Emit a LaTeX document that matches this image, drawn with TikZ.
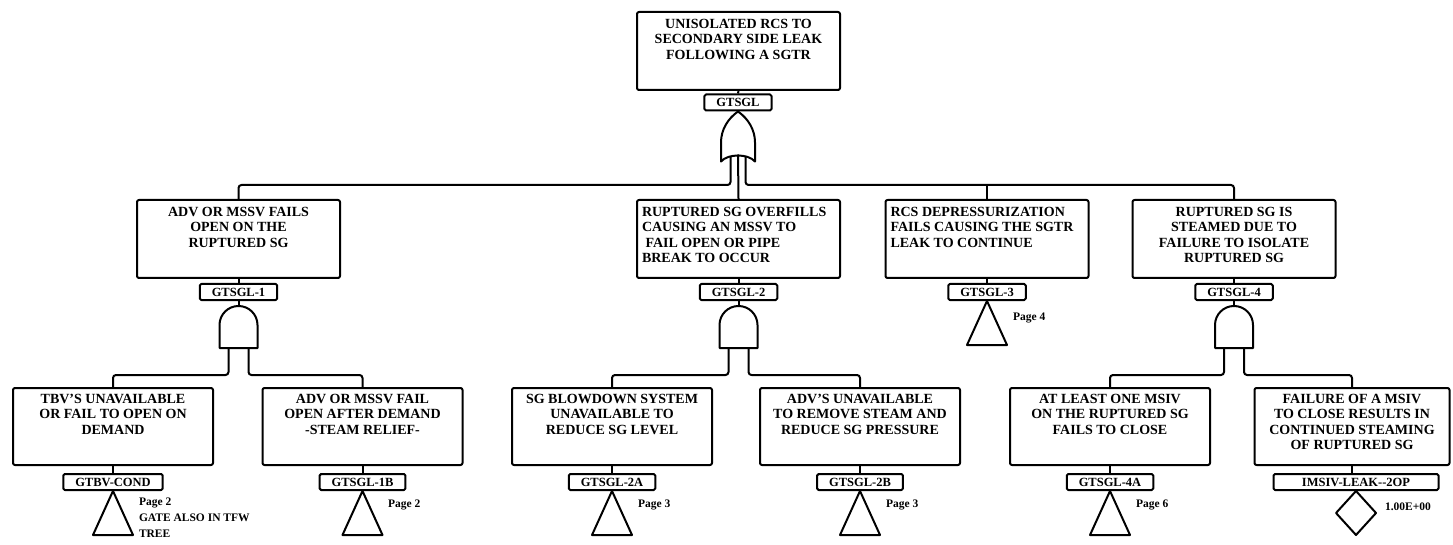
\documentclass[tikz,border=0pt]{standalone}
\usepackage{fontspec}
\setmainfont{Liberation Serif}
\begin{document}
\begin{tikzpicture}[x=1pt, y=-1pt, line width=2pt, line join=round,
  ev/.style={draw, rounded corners=2pt, minimum width=203pt, minimum height=78pt, inner sep=0pt},
  lv/.style={ev, minimum width=200pt, minimum height=77pt},
  evtxt/.style={anchor=north, align=center, inner sep=0pt, font=\fontsize{14}{15.5}\selectfont\bfseries},
  evtxtl/.style={evtxt, anchor=north west, align=left},
  tag/.style={draw, rounded corners=1.5pt, minimum height=16pt, inner ysep=0pt, inner xsep=12pt, font=\fontsize{12.5}{14}\selectfont\bfseries},
  note/.style={inner sep=0pt, align=left, font=\fontsize{11.5}{16}\selectfont\bfseries},
  cn/.style={rounded corners=3pt},
  orgate/.pic={
    \draw (0,0) .. controls (10,7) and (17,18) .. (17,31) -- (17,50)
      .. controls (10,42) and (-10,42) .. (-17,50) -- (-17,31)
      .. controls (-17,18) and (-10,7) .. (0,0) -- cycle;
    \coordinate (-l) at (-7.5,44.5);
    \coordinate (-m) at (0,43);
    \coordinate (-r) at (7.5,44.5);
  },
  andgate/.pic={
    \draw (-19,42) -- (-19,19) .. controls (-19,8.5) and (-10.5,0) .. (0,0)
      .. controls (10.5,0) and (19,8.5) .. (19,19) -- (19,42) -- cycle;
    \coordinate (-top) at (0,0);
    \coordinate (-l) at (-10,42);
    \coordinate (-r) at (10,42);
  },
  xfer/.pic={\draw (0,0) -- (20,44) -- (-20,44) -- cycle;},
  diam/.pic={\draw (0,0) -- (20,22) -- (0,44) -- (-20,22) -- cycle;},
]
\useasboundingbox (0,0) rectangle (1453,545);

% ---------- top event ----------
\node[ev] (top) at (738.5,51) {};
\node[evtxt] (toptx) at ([yshift=-7pt]top.north) {UNISOLATED RCS TO\\SECONDARY SIDE LEAK\\FOLLOWING A SGTR};
\node[tag] (toptag) at (738,102.5) {GTSGL};
\draw (top.south) -- (toptag.north);
\pic (g0) at (toptag.south) {orgate};

% ---------- second level ----------
\node[ev] (b1) at (238.5,239) {};
\node[evtxt] (b1tx) at ([yshift=-7pt]b1.north) {ADV OR MSSV FAILS\\OPEN ON THE\\RUPTURED SG};
\node[ev] (b2) at (738.5,239) {};
\node[evtxtl] (b2tx) at ([xshift=5pt,yshift=-7pt]b2.north west) {RUPTURED SG OVERFILLS\\CAUSING AN MSSV TO\\\ FAIL OPEN OR PIPE\\BREAK TO OCCUR};
\node[ev] (b3) at (987,239) {};
\node[evtxtl] (b3tx) at ([xshift=5pt,yshift=-7pt]b3.north west) {RCS DEPRESSURIZATION\\FAILS CAUSING THE SGTR\\LEAK TO CONTINUE};
\node[ev] (b4) at (1234,239) {};
\node[evtxt] (b4tx) at ([yshift=-7pt]b4.north) {RUPTURED SG IS\\STEAMED DUE TO\\FAILURE TO ISOLATE\\RUPTURED SG};

% OR gate outputs and the bus
\draw (g0-m) -- (b2.north);
\draw[cn] (g0-l) -- ++(0,29) -| (b1.north);
\draw[cn] (g0-r) -- ++(0,29) -| (b4.north);
\draw (b3.north) -- ++(0,-15);

\node[tag] (t1) at (238.5,292) {GTSGL-1};
\node[tag] (t2) at (738.5,292) {GTSGL-2};
\node[tag] (t3) at (987,292) {GTSGL-3};
\node[tag] (t4) at (1234,292) {GTSGL-4};
\foreach \b/\t in {b1/t1,b2/t2,b3/t3,b4/t4} \draw (\b.south) -- (\t.north);

\pic (g1) at ([yshift=-5pt]t1.south) {andgate};
\pic (g2) at ([yshift=-5pt]t2.south) {andgate};
\pic (g4) at ([yshift=-5pt]t4.south) {andgate};
\foreach \t/\g in {t1/g1,t2/g2,t4/g4} \draw (\t.south) -- (\g-top);
\pic (x3) at (t3.south) {xfer};
\node[note, anchor=west] (n3) at (1012,318) {Page 4};

% ---------- basic level ----------
\node[lv] (l1) at (113,426.5) {};
\node[evtxt] (l1tx) at ([yshift=-6pt]l1.north) {TBV'S UNAVAILABLE\\OR FAIL TO OPEN ON\\DEMAND};
\node[lv] (l2) at (362.5,426.5) {};
\node[evtxt] (l2tx) at ([yshift=-6pt]l2.north) {ADV OR MSSV FAIL\\OPEN AFTER DEMAND\\-STEAM RELIEF-};
\node[lv] (l3) at (612,426.5) {};
\node[evtxt] (l3tx) at ([yshift=-6pt]l3.north) {SG BLOWDOWN SYSTEM\\UNAVAILABLE TO\\REDUCE SG LEVEL};
\node[lv] (l4) at (860,426.5) {};
\node[evtxt] (l4tx) at ([yshift=-6pt]l4.north) {ADV'S UNAVAILABLE\\TO REMOVE STEAM AND\\REDUCE SG PRESSURE};
\node[lv] (l5) at (1110,426.5) {};
\node[evtxt] (l5tx) at ([yshift=-6pt]l5.north) {AT LEAST ONE MSIV\\ON THE RUPTURED SG\\FAILS TO CLOSE};
\node[lv, minimum width=195pt] (l6) at (1352,426.5) {};
\node[evtxt] (l6tx) at ([yshift=-6pt]l6.north) {FAILURE OF A MSIV\\TO CLOSE RESULTS IN\\CONTINUED STEAMING\\OF RUPTURED SG};

% AND gate inputs
\draw[cn] (g1-l) -- ++(0,27) -| (l1.north);
\draw[cn] (g1-r) -- ++(0,27) -| (l2.north);
\draw[cn] (g2-l) -- ++(0,27) -| (l3.north);
\draw[cn] (g2-r) -- ++(0,27) -| (l4.north);
\draw[cn] (g4-l) -- ++(0,27) -| (l5.north);
\draw[cn] (g4-r) -- ++(0,27) -| (l6.north);

\node[tag] (s1) at (113,482) {GTBV-COND};
\node[tag] (s2) at (362.5,482) {GTSGL-1B};
\node[tag] (s3) at (612,482) {GTSGL-2A};
\node[tag] (s4) at (860,482) {GTSGL-2B};
\node[tag] (s5) at (1110,482) {GTSGL-4A};
\node[tag, minimum width=165pt] (s6) at (1356,482) {IMSIV-LEAK{-}{-}2OP};
\foreach \l/\s in {l1/s1,l2/s2,l3/s3,l4/s4,l5/s5} \draw (\l.south) -- (\s.north);
\draw (l6.south) -- (l6.south |- s6.north);

\pic (x1) at (s1.south) {xfer};
\pic (x2) at (s2.south) {xfer};
\pic (x3a) at (s3.south) {xfer};
\pic (x4) at (s4.south) {xfer};
\pic (x5) at (s5.south) {xfer};
\pic (d6) at (s6.south) {diam};

\node[note, anchor=north west] (m1) at (138,497) {Page 2\\GATE ALSO IN TFW\\TREE};
\node[note, anchor=west] (m2) at (387,505) {Page 2};
\node[note, anchor=west] (m3) at (637,505) {Page 3};
\node[note, anchor=west] (m4) at (885,505) {Page 3};
\node[note, anchor=west] (m5) at (1135,505) {Page 6};
\node[note, anchor=west] (m6) at (1384,507) {1.00E+00};
\end{tikzpicture}
\end{document}
